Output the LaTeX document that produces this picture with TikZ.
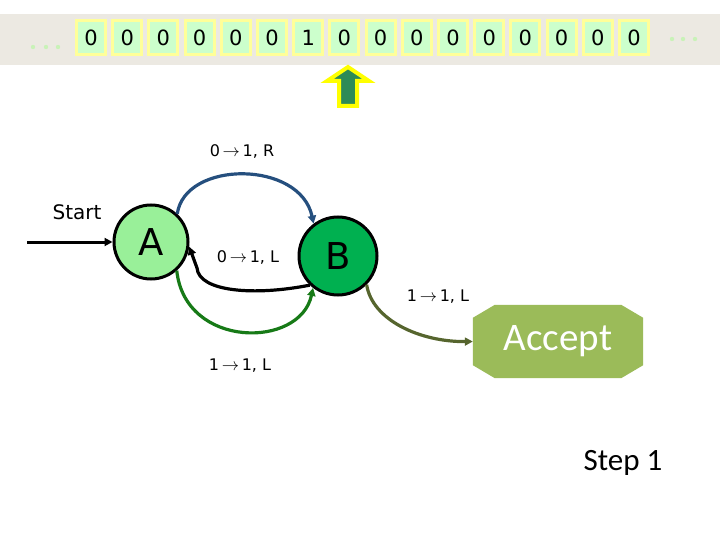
\documentclass[tikz,border=0pt]{standalone}
\usepackage{fontspec}
\setmainfont{DejaVu Sans}
\newfontfamily\calib{Carlito}
\usetikzlibrary{arrows.meta,backgrounds}
\definecolor{band}{HTML}{ECE9E2}
\definecolor{cellborder}{HTML}{FFFF99}
\definecolor{cellfill}{HTML}{CCFFCC}
\definecolor{dotc}{HTML}{C9F2B8}
\definecolor{headgreen}{HTML}{2E8B57}
\definecolor{headyellow}{HTML}{FFFF00}
\definecolor{Afill}{HTML}{99F099}
\definecolor{Bfill}{HTML}{00B050}
\definecolor{blueedge}{HTML}{254F7E}
\definecolor{greenedge}{HTML}{177A17}
\definecolor{oliveedge}{HTML}{56652E}
\definecolor{accfill}{HTML}{9BBB59}
\newcommand{\tto}{\,$\rightarrow$\,}
\tikzset{
  cell/.style={draw=cellborder, line width=3pt, fill=cellfill, minimum width=29pt, minimum height=34pt, inner sep=0pt, font=\fontsize{21}{21}\selectfont},
  state/.style={circle, draw=black, line width=3pt, inner sep=0pt, font=\fontsize{37}{37}\selectfont},
  edge/.style={line width=3.2pt, -{Triangle[length=8pt,width=8pt]}},
  lbl/.style={font=\fontsize{16}{16}\selectfont, inner sep=0pt}
}
\begin{document}
\begin{tikzpicture}[x=1pt,y=-1pt]
\useasboundingbox (0,0) rectangle (720,540);
\fill[band] (0,14) rectangle (720,65);
\foreach \v [count=\i from 0] in {0,0,0,0,0,0,1,0,0,0,0,0,0,0,0,0}
  \node[cell] (c\i) at ({91+36.2*\i},38) {\v};
\foreach \xx/\yy in {33/47,46/47,58/47,672/39,683/39,695/39}
  \fill[dotc] (\xx,\yy) circle (2.2pt);
\draw[headyellow, line width=4pt, fill=headgreen, line join=miter]
  (348,67) -- (369,81) -- (357,81) -- (357,106) -- (339,106) -- (339,81) -- (327,81) -- cycle;

\node[state, fill=Afill, minimum size=74pt] (A) at (151,242) {A};
\node[state, fill=Bfill, minimum size=78pt] (B) at (338,256) {B};
\node[font=\calib\fontsize{39}{39}\selectfont, text=white, minimum width=170pt, minimum height=73pt, inner sep=0pt] (acc) at (558,341.5) {Accept};
\begin{scope}[on background layer]
\fill[accfill] ([xshift=22pt]acc.north west) -- ([xshift=-22pt]acc.north east) -- ([yshift=-13pt]acc.north east) -- ([yshift=13pt]acc.south east) -- ([xshift=-22pt]acc.south east) -- ([xshift=22pt]acc.south west) -- ([yshift=13pt]acc.south west) -- ([yshift=-13pt]acc.north west) -- cycle;
\end{scope}

\node[font=\fontsize{20}{20}\selectfont, inner sep=0pt] (start) at (77,212) {Start};
\coordinate (s0) at (27,242);
\draw[edge, line width=3pt] (s0) -- (A.west);

\draw[edge, blueedge] (A.47) .. controls (185,160) and (300,160) .. (B.127);
\draw[edge] (B.226) .. controls (255,296) and (199,292) .. (197,268) -- (A.-7);
\draw[edge, greenedge] (A.-48) .. controls (185,349) and (300,349) .. (B.-128);
\draw[edge, oliveedge] (B.-45) .. controls (372,320) and (420,342) .. (acc.west);

\node[lbl] (l1) at (242,151) {0\tto 1, R};
\node[lbl] (l2) at (248,257) {0\tto 1, L};
\node[lbl] (l3) at (240,366) {1\tto 1, L};
\node[lbl] (l4) at (438,297) {1\tto 1, L};
\node[font=\calib\fontsize{31}{31}\selectfont, inner sep=0pt] (step) at (623,463) {Step 1};
\end{tikzpicture}
\end{document}
